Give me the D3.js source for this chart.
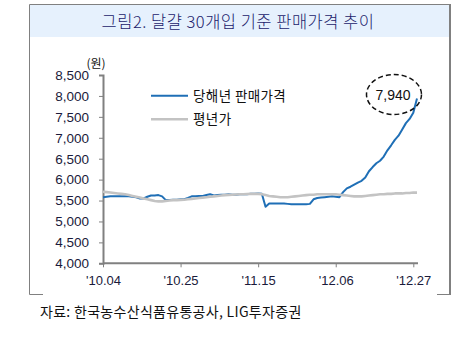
<!DOCTYPE html>
<html><head><meta charset="utf-8">
<script src="https://cdn.jsdelivr.net/npm/d3@7"></script>
<style>body{margin:0;background:#fff}svg{display:block}</style>
</head><body>
<svg id="c" width="466" height="341"></svg>
<script>
const title = "그림2. 달걀 30개입 기준 판매가격 추이";
const source = "자료: 한국농수산식품유통공사, LIG투자증권";
const unitLabel = "(원)";
const seriesNames = ["당해년 판매가격", "평년가"];
const tickLabels = ["'10.04", "'10.25", "'11.15", "'12.06", "'12.27"];
const tickIndex = [0, 21, 42, 63, 84];
const yTicks = [4000, 4500, 5000, 5500, 6000, 6500, 7000, 7500, 8000, 8500];
const currentPrice = [5580,5590,5600,5600,5600,5600,5600,5600,5590,5580,
 5550,5550,5590,5620,5620,5630,5600,5510,5510,5520,
 5520,5530,5530,5560,5600,5600,5610,5610,5630,5650,
 5620,5630,5640,5640,5650,5640,5640,5650,5650,5650,
 5660,5660,5670,5660,5350,5430,5430,5430,5430,5430,
 5420,5410,5410,5410,5410,5410,5420,5530,5560,5570,
 5580,5590,5600,5590,5580,5700,5790,5830,5880,5930,
 5970,6050,6200,6300,6390,6450,6550,6700,6820,6950,
 7050,7200,7350,7450,7600,7940];
const normalPrice = [5710,5700,5690,5680,5670,5660,5650,5630,5610,5590,
 5570,5550,5530,5510,5490,5480,5480,5490,5500,5510,
 5510,5515,5520,5530,5540,5550,5560,5570,5580,5590,
 5600,5610,5620,5630,5635,5640,5645,5650,5650,5655,
 5660,5660,5660,5650,5630,5610,5600,5590,5580,5580,
 5580,5590,5600,5610,5620,5630,5640,5640,5650,5650,
 5650,5650,5650,5650,5640,5630,5620,5610,5600,5600,
 5600,5610,5620,5630,5640,5650,5650,5660,5660,5670,
 5670,5670,5680,5680,5690,5690];
const annotation = "7,940";

const svg = d3.select("#c");
const KR = "'Noto Sans CJK KR','Noto Sans',sans-serif";
const NUM = "'Liberation Sans',Arial,sans-serif";

// frame
svg.append("rect").attr("x",30).attr("y",5).attr("width",419).attr("height",32).attr("fill","#e6f1fd");
svg.append("path").attr("d","M29.5,294.5V4.5H449").attr("fill","none").attr("stroke","#808080").attr("stroke-width",1);
svg.append("path").attr("d","M29.5,294.5H43").attr("fill","none").attr("stroke","#808080").attr("stroke-width",1);
svg.append("path").attr("d","M450,4V295").attr("fill","none").attr("stroke","#808080").attr("stroke-width",2);
svg.append("path").attr("d","M437,294.5H450").attr("fill","none").attr("stroke","#808080").attr("stroke-width",1);

svg.append("text").attr("x",238).attr("y",28).attr("text-anchor","middle")
  .style("font-family",KR).style("font-size","16.5px").style("font-weight","300").style("letter-spacing","0.5px")
  .attr("fill","#1b1b6b").text(title);

const x = d3.scaleLinear().domain([0,84]).range([103,413.3]);
const y = d3.scaleLinear().domain([4000,8500]).range([263.3,75]);

// y axis
const ya = svg.append("g").attr("transform","translate(103,0)")
  .call(d3.axisLeft(y).tickValues(yTicks).tickFormat(d3.format(",")).tickSize(4).tickPadding(10));
ya.select(".domain").attr("stroke","#808080").attr("stroke-width",2);
ya.selectAll(".tick line").attr("stroke","#808080").attr("stroke-width",1);
ya.selectAll("text").style("font-family",NUM).style("font-size","13.5px").attr("fill","#1a1a3a");

// x axis
const xa = svg.append("g").attr("transform","translate(0,263.3)")
  .call(d3.axisBottom(x).tickValues(tickIndex).tickFormat((d,i)=>tickLabels[i]).tickSize(4).tickSizeOuter(0).tickPadding(8));
xa.select(".domain").attr("stroke","#808080").attr("stroke-width",2).attr("d","M103,0H418");
xa.selectAll(".tick line").attr("stroke","#808080").attr("stroke-width",1);
xa.selectAll("text").style("font-family",NUM).style("font-size","13px").attr("fill","#1a1a3a");

svg.append("text").attr("x",96).attr("y",68).attr("text-anchor","middle")
  .style("font-family",KR).style("font-size","12px").attr("fill","#111").text(unitLabel);

const line = d3.line().x((d,i)=>x(i)).y(d=>y(d));
svg.append("path").datum(currentPrice).attr("d",line).attr("fill","none")
  .attr("stroke","#1f6fb6").attr("stroke-width",2).attr("stroke-linejoin","round");
svg.append("path").datum(normalPrice).attr("d",line).attr("fill","none")
  .attr("stroke","#c3c3c3").attr("stroke-width",2.6).attr("stroke-linejoin","round");

// legend
const leg = [{c:"#1f6fb6",w:2,y:95.7},{c:"#c3c3c3",w:2.6,y:119.3}];
leg.forEach((l,i)=>{
  svg.append("line").attr("x1",151).attr("x2",188).attr("y1",l.y).attr("y2",l.y).attr("stroke",l.c).attr("stroke-width",l.w);
  svg.append("text").attr("x",193).attr("y",l.y+5).style("font-family",KR).style("font-size","13.5px").style("letter-spacing","0.4px").attr("fill","#111").text(seriesNames[i]);
});

// annotation
svg.append("ellipse").attr("cx",394).attr("cy",94.5).attr("rx",27.5).attr("ry",20)
  .attr("fill","none").attr("stroke","#111").attr("stroke-width",1.5).attr("stroke-dasharray","5,3");
svg.append("text").attr("x",393).attr("y",99.5).attr("text-anchor","middle")
  .style("font-family",NUM).style("font-size","14px").attr("fill","#111").text(annotation);

svg.append("text").attr("x",40).attr("y",317).style("font-family",KR).style("font-size","14px").style("letter-spacing","0.3px").attr("fill","#111").text(source);
</script>
</body></html>
